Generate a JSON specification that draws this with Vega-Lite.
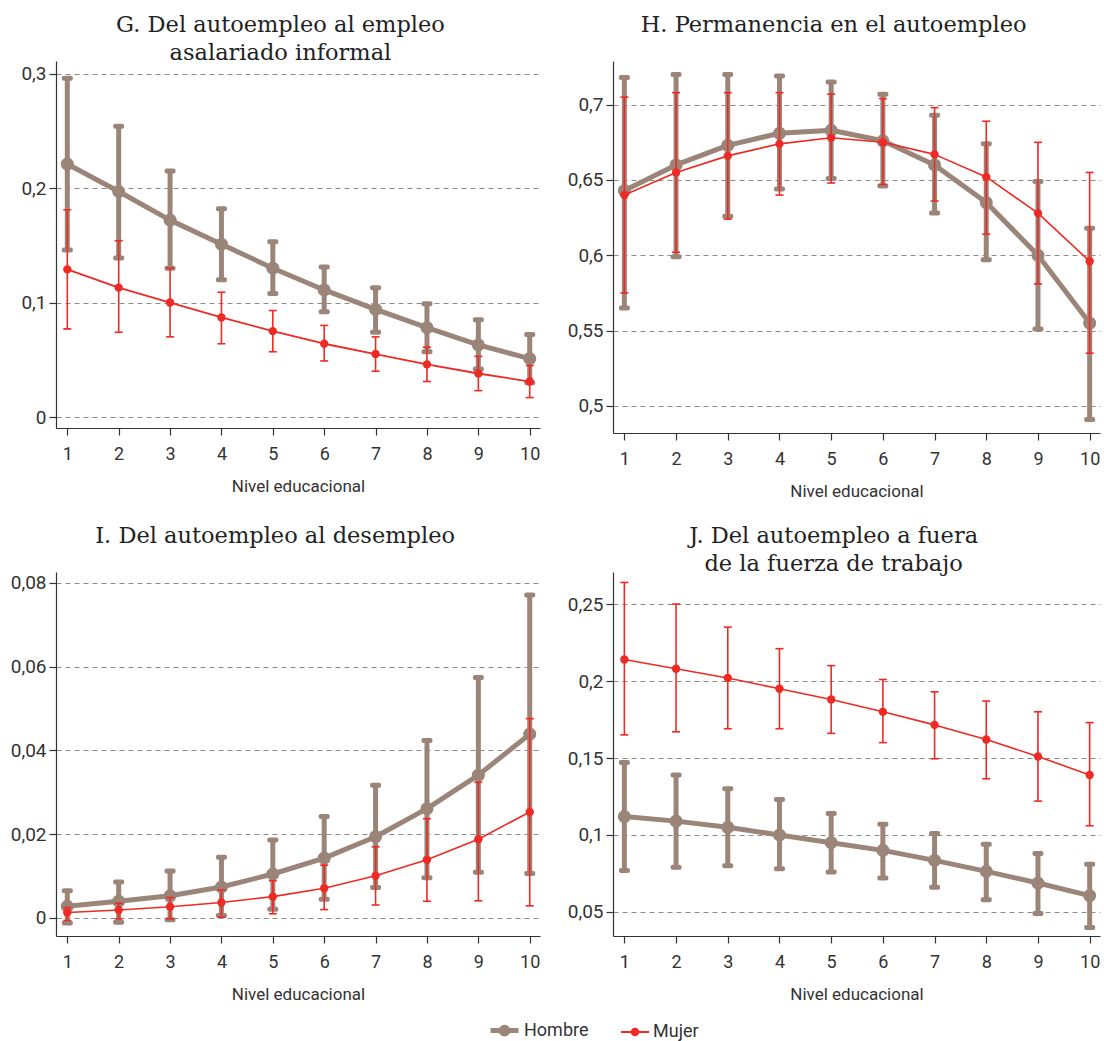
{
  "$schema": "https://vega.github.io/schema/vega-lite/v6.json",
  "padding": {"left": 10, "top": 13, "right": 2, "bottom": 0},
  "background": "white",
  "datasets": {
    "d": [
      {"panel":"G","nivel":1,"sexo":"Hombre","v":0.221,"lo":0.146,"hi":0.296},
      {"panel":"G","nivel":2,"sexo":"Hombre","v":0.197,"lo":0.139,"hi":0.254},
      {"panel":"G","nivel":3,"sexo":"Hombre","v":0.172,"lo":0.130,"hi":0.215},
      {"panel":"G","nivel":4,"sexo":"Hombre","v":0.151,"lo":0.120,"hi":0.182},
      {"panel":"G","nivel":5,"sexo":"Hombre","v":0.130,"lo":0.108,"hi":0.153},
      {"panel":"G","nivel":6,"sexo":"Hombre","v":0.111,"lo":0.092,"hi":0.131},
      {"panel":"G","nivel":7,"sexo":"Hombre","v":0.094,"lo":0.074,"hi":0.113},
      {"panel":"G","nivel":8,"sexo":"Hombre","v":0.078,"lo":0.057,"hi":0.099},
      {"panel":"G","nivel":9,"sexo":"Hombre","v":0.063,"lo":0.042,"hi":0.085},
      {"panel":"G","nivel":10,"sexo":"Hombre","v":0.051,"lo":0.030,"hi":0.072},
      {"panel":"G","nivel":1,"sexo":"Mujer","v":0.129,"lo":0.077,"hi":0.181},
      {"panel":"G","nivel":2,"sexo":"Mujer","v":0.113,"lo":0.074,"hi":0.154},
      {"panel":"G","nivel":3,"sexo":"Mujer","v":0.100,"lo":0.070,"hi":0.130},
      {"panel":"G","nivel":4,"sexo":"Mujer","v":0.087,"lo":0.064,"hi":0.109},
      {"panel":"G","nivel":5,"sexo":"Mujer","v":0.075,"lo":0.057,"hi":0.093},
      {"panel":"G","nivel":6,"sexo":"Mujer","v":0.064,"lo":0.049,"hi":0.080},
      {"panel":"G","nivel":7,"sexo":"Mujer","v":0.055,"lo":0.040,"hi":0.070},
      {"panel":"G","nivel":8,"sexo":"Mujer","v":0.046,"lo":0.031,"hi":0.061},
      {"panel":"G","nivel":9,"sexo":"Mujer","v":0.038,"lo":0.023,"hi":0.053},
      {"panel":"G","nivel":10,"sexo":"Mujer","v":0.031,"lo":0.017,"hi":0.045},
      {"panel":"H","nivel":1,"sexo":"Hombre","v":0.643,"lo":0.565,"hi":0.718},
      {"panel":"H","nivel":2,"sexo":"Hombre","v":0.660,"lo":0.599,"hi":0.720},
      {"panel":"H","nivel":3,"sexo":"Hombre","v":0.673,"lo":0.626,"hi":0.720},
      {"panel":"H","nivel":4,"sexo":"Hombre","v":0.681,"lo":0.644,"hi":0.719},
      {"panel":"H","nivel":5,"sexo":"Hombre","v":0.683,"lo":0.651,"hi":0.715},
      {"panel":"H","nivel":6,"sexo":"Hombre","v":0.676,"lo":0.646,"hi":0.707},
      {"panel":"H","nivel":7,"sexo":"Hombre","v":0.660,"lo":0.628,"hi":0.693},
      {"panel":"H","nivel":8,"sexo":"Hombre","v":0.635,"lo":0.597,"hi":0.674},
      {"panel":"H","nivel":9,"sexo":"Hombre","v":0.600,"lo":0.551,"hi":0.649},
      {"panel":"H","nivel":10,"sexo":"Hombre","v":0.555,"lo":0.491,"hi":0.618},
      {"panel":"H","nivel":1,"sexo":"Mujer","v":0.640,"lo":0.575,"hi":0.705},
      {"panel":"H","nivel":2,"sexo":"Mujer","v":0.655,"lo":0.602,"hi":0.708},
      {"panel":"H","nivel":3,"sexo":"Mujer","v":0.666,"lo":0.624,"hi":0.708},
      {"panel":"H","nivel":4,"sexo":"Mujer","v":0.674,"lo":0.640,"hi":0.708},
      {"panel":"H","nivel":5,"sexo":"Mujer","v":0.678,"lo":0.648,"hi":0.707},
      {"panel":"H","nivel":6,"sexo":"Mujer","v":0.675,"lo":0.647,"hi":0.704},
      {"panel":"H","nivel":7,"sexo":"Mujer","v":0.667,"lo":0.636,"hi":0.698},
      {"panel":"H","nivel":8,"sexo":"Mujer","v":0.652,"lo":0.614,"hi":0.689},
      {"panel":"H","nivel":9,"sexo":"Mujer","v":0.628,"lo":0.581,"hi":0.675},
      {"panel":"H","nivel":10,"sexo":"Mujer","v":0.596,"lo":0.535,"hi":0.655},
      {"panel":"I","nivel":1,"sexo":"Hombre","v":0.0028,"lo":-0.0012,"hi":0.0065},
      {"panel":"I","nivel":2,"sexo":"Hombre","v":0.0040,"lo":-0.0010,"hi":0.0086},
      {"panel":"I","nivel":3,"sexo":"Hombre","v":0.0053,"lo":-0.0004,"hi":0.0112},
      {"panel":"I","nivel":4,"sexo":"Hombre","v":0.0074,"lo":0.0006,"hi":0.0145},
      {"panel":"I","nivel":5,"sexo":"Hombre","v":0.0105,"lo":0.0021,"hi":0.0186},
      {"panel":"I","nivel":6,"sexo":"Hombre","v":0.0143,"lo":0.0045,"hi":0.0242},
      {"panel":"I","nivel":7,"sexo":"Hombre","v":0.0194,"lo":0.0073,"hi":0.0317},
      {"panel":"I","nivel":8,"sexo":"Hombre","v":0.0261,"lo":0.0096,"hi":0.0424},
      {"panel":"I","nivel":9,"sexo":"Hombre","v":0.0341,"lo":0.0109,"hi":0.0574},
      {"panel":"I","nivel":10,"sexo":"Hombre","v":0.0439,"lo":0.0106,"hi":0.0771},
      {"panel":"I","nivel":1,"sexo":"Mujer","v":0.0013,"lo":-0.0006,"hi":0.0025},
      {"panel":"I","nivel":2,"sexo":"Mujer","v":0.0019,"lo":-0.0002,"hi":0.0035},
      {"panel":"I","nivel":3,"sexo":"Mujer","v":0.0027,"lo":-0.0002,"hi":0.0049},
      {"panel":"I","nivel":4,"sexo":"Mujer","v":0.0037,"lo":0.0002,"hi":0.0067},
      {"panel":"I","nivel":5,"sexo":"Mujer","v":0.0051,"lo":0.0010,"hi":0.0089},
      {"panel":"I","nivel":6,"sexo":"Mujer","v":0.0071,"lo":0.0020,"hi":0.0126},
      {"panel":"I","nivel":7,"sexo":"Mujer","v":0.0101,"lo":0.0031,"hi":0.0170},
      {"panel":"I","nivel":8,"sexo":"Mujer","v":0.0139,"lo":0.0040,"hi":0.0237},
      {"panel":"I","nivel":9,"sexo":"Mujer","v":0.0188,"lo":0.0041,"hi":0.0324},
      {"panel":"I","nivel":10,"sexo":"Mujer","v":0.0253,"lo":0.0029,"hi":0.0476},
      {"panel":"J","nivel":1,"sexo":"Hombre","v":0.112,"lo":0.077,"hi":0.147},
      {"panel":"J","nivel":2,"sexo":"Hombre","v":0.109,"lo":0.079,"hi":0.139},
      {"panel":"J","nivel":3,"sexo":"Hombre","v":0.105,"lo":0.080,"hi":0.130},
      {"panel":"J","nivel":4,"sexo":"Hombre","v":0.100,"lo":0.078,"hi":0.123},
      {"panel":"J","nivel":5,"sexo":"Hombre","v":0.095,"lo":0.076,"hi":0.114},
      {"panel":"J","nivel":6,"sexo":"Hombre","v":0.090,"lo":0.072,"hi":0.107},
      {"panel":"J","nivel":7,"sexo":"Hombre","v":0.0835,"lo":0.066,"hi":0.101},
      {"panel":"J","nivel":8,"sexo":"Hombre","v":0.0764,"lo":0.058,"hi":0.094},
      {"panel":"J","nivel":9,"sexo":"Hombre","v":0.0688,"lo":0.049,"hi":0.088},
      {"panel":"J","nivel":10,"sexo":"Hombre","v":0.0606,"lo":0.040,"hi":0.081},
      {"panel":"J","nivel":1,"sexo":"Mujer","v":0.214,"lo":0.165,"hi":0.264},
      {"panel":"J","nivel":2,"sexo":"Mujer","v":0.208,"lo":0.167,"hi":0.250},
      {"panel":"J","nivel":3,"sexo":"Mujer","v":0.202,"lo":0.169,"hi":0.235},
      {"panel":"J","nivel":4,"sexo":"Mujer","v":0.195,"lo":0.169,"hi":0.221},
      {"panel":"J","nivel":5,"sexo":"Mujer","v":0.188,"lo":0.166,"hi":0.210},
      {"panel":"J","nivel":6,"sexo":"Mujer","v":0.180,"lo":0.160,"hi":0.201},
      {"panel":"J","nivel":7,"sexo":"Mujer","v":0.1715,"lo":0.1495,"hi":0.193},
      {"panel":"J","nivel":8,"sexo":"Mujer","v":0.162,"lo":0.1365,"hi":0.187},
      {"panel":"J","nivel":9,"sexo":"Mujer","v":0.151,"lo":0.122,"hi":0.180},
      {"panel":"J","nivel":10,"sexo":"Mujer","v":0.139,"lo":0.106,"hi":0.173}
    ]
  },
  "data": {"name": "d"},
  "columns": 2,
  "spacing": {"row": 25, "column": 27},
  "concat": [
    {
      "title": {"text": ["G. Del autoempleo al empleo", "asalariado informal"]},
      "width": 484, "height": 367,
      "transform": [{"filter": "datum.panel === 'G'"}],
      "encoding": {
        "x": {"field": "nivel", "type": "quantitative", "scale": {"domain": [0.78, 10.2], "nice": false, "zero": false}, "axis": {"values": [1,2,3,4,5,6,7,8,9,10], "title": "Nivel educacional", "format": "d"}},
        "color": {"field": "sexo", "type": "nominal", "scale": {"domain": ["Hombre", "Mujer"], "range": ["#9b8579", "#ee2a24"]},
          "legend": {"orient": "none", "legendX": 432, "legendY": 953, "direction": "horizontal", "title": null, "symbolSize": 784, "columnPadding": 28, "labelOffset": 3, "padding": 0,
            "symbolType": "M-1,0H1M0.24,0A0.24,0.24 0 1,1 -0.24,0A0.24,0.24 0 1,1 0.24,0Z"}}
      },
      "layer": [
        {"transform": [{"filter": "datum.sexo === 'Hombre'"}], "mark": {"type": "errorbar", "thickness": 5, "size": 11, "ticks": {"opacity": 1, "cornerRadius": 2}, "rule": {"opacity": 1}},
         "encoding": {"y": {"field": "lo", "type": "quantitative", "scale": {"domain": [-0.0096, 0.311], "nice": false, "zero": false}, "axis": {"values": [0, 0.1, 0.2, 0.3], "title": null}}, "y2": {"field": "hi"}}},
        {"transform": [{"filter": "datum.sexo === 'Hombre'"}], "mark": {"type": "line", "point": {"filled": true, "size": 170, "opacity": 1}},
         "encoding": {"y": {"field": "v", "type": "quantitative", "scale": {"domain": [-0.0096, 0.311], "nice": false, "zero": false}, "axis": {"values": [0, 0.1, 0.2, 0.3], "title": null}},
           "strokeWidth": {"field": "sexo", "type": "nominal", "scale": {"type": "ordinal", "domain": ["Hombre", "Mujer"], "range": [5, 1.8]},
             "legend": {"orient": "none", "legendX": 432, "legendY": 953, "direction": "horizontal", "title": null, "symbolSize": 784, "columnPadding": 28, "labelOffset": 3, "padding": 0,
               "symbolType": "M-1,0H1M0.24,0A0.24,0.24 0 1,1 -0.24,0A0.24,0.24 0 1,1 0.24,0Z"}}}},
        {"transform": [{"filter": "datum.sexo === 'Mujer'"}], "mark": {"type": "errorbar", "thickness": 1.6, "size": 8, "ticks": {"opacity": 1}, "rule": {"opacity": 1}},
         "encoding": {"y": {"field": "lo", "type": "quantitative", "scale": {"domain": [-0.0096, 0.311], "nice": false, "zero": false}, "axis": {"values": [0, 0.1, 0.2, 0.3], "title": null}}, "y2": {"field": "hi"}}},
        {"transform": [{"filter": "datum.sexo === 'Mujer'"}], "mark": {"type": "line", "point": {"filled": true, "size": 70, "opacity": 1}},
         "encoding": {"y": {"field": "v", "type": "quantitative", "scale": {"domain": [-0.0096, 0.311], "nice": false, "zero": false}, "axis": {"values": [0, 0.1, 0.2, 0.3], "title": null}},
           "strokeWidth": {"field": "sexo", "type": "nominal", "scale": {"type": "ordinal", "domain": ["Hombre", "Mujer"], "range": [5, 1.8]},
             "legend": {"orient": "none", "legendX": 432, "legendY": 953, "direction": "horizontal", "title": null, "symbolSize": 784, "columnPadding": 28, "labelOffset": 3, "padding": 0,
               "symbolType": "M-1,0H1M0.24,0A0.24,0.24 0 1,1 -0.24,0A0.24,0.24 0 1,1 0.24,0Z"}}}}
      ]
    },
    {
      "title": {"text": ["H. Permanencia en el autoempleo", " "]},
      "width": 487, "height": 372,
      "transform": [{"filter": "datum.panel === 'H'"}],
      "encoding": {
        "x": {"field": "nivel", "type": "quantitative", "scale": {"domain": [0.78, 10.2], "nice": false, "zero": false}, "axis": {"values": [1,2,3,4,5,6,7,8,9,10], "title": "Nivel educacional", "format": "d"}},
        "color": {"field": "sexo", "type": "nominal", "scale": {"domain": ["Hombre", "Mujer"], "range": ["#9b8579", "#ee2a24"]}, "legend": null}
      },
      "layer": [
        {"transform": [{"filter": "datum.sexo === 'Hombre'"}], "mark": {"type": "errorbar", "thickness": 5, "size": 11, "ticks": {"opacity": 1, "cornerRadius": 2}, "rule": {"opacity": 1}},
         "encoding": {"y": {"field": "lo", "type": "quantitative", "scale": {"domain": [0.482, 0.729], "nice": false, "zero": false}, "axis": {"values": [0.5, 0.55, 0.6, 0.65, 0.7], "title": null}}, "y2": {"field": "hi"}}},
        {"transform": [{"filter": "datum.sexo === 'Hombre'"}], "mark": {"type": "line", "strokeWidth": 5, "point": {"filled": true, "size": 170, "opacity": 1}},
         "encoding": {"y": {"field": "v", "type": "quantitative", "scale": {"domain": [0.482, 0.729], "nice": false, "zero": false}, "axis": {"values": [0.5, 0.55, 0.6, 0.65, 0.7], "title": null}}}},
        {"transform": [{"filter": "datum.sexo === 'Mujer'"}], "mark": {"type": "errorbar", "thickness": 1.6, "size": 8, "ticks": {"opacity": 1}, "rule": {"opacity": 1}},
         "encoding": {"y": {"field": "lo", "type": "quantitative", "scale": {"domain": [0.482, 0.729], "nice": false, "zero": false}, "axis": {"values": [0.5, 0.55, 0.6, 0.65, 0.7], "title": null}}, "y2": {"field": "hi"}}},
        {"transform": [{"filter": "datum.sexo === 'Mujer'"}], "mark": {"type": "line", "strokeWidth": 1.6, "point": {"filled": true, "size": 70, "opacity": 1}},
         "encoding": {"y": {"field": "v", "type": "quantitative", "scale": {"domain": [0.482, 0.729], "nice": false, "zero": false}, "axis": {"values": [0.5, 0.55, 0.6, 0.65, 0.7], "title": null}}}}
      ]
    },
    {
      "title": {"text": ["I. Del autoempleo al desempleo", " "]},
      "width": 484, "height": 364,
      "transform": [{"filter": "datum.panel === 'I'"}],
      "encoding": {
        "x": {"field": "nivel", "type": "quantitative", "scale": {"domain": [0.78, 10.2], "nice": false, "zero": false}, "axis": {"values": [1,2,3,4,5,6,7,8,9,10], "title": "Nivel educacional", "format": "d"}},
        "color": {"field": "sexo", "type": "nominal", "scale": {"domain": ["Hombre", "Mujer"], "range": ["#9b8579", "#ee2a24"]}, "legend": null}
      },
      "layer": [
        {"transform": [{"filter": "datum.sexo === 'Hombre'"}], "mark": {"type": "errorbar", "thickness": 5, "size": 11, "ticks": {"opacity": 1, "cornerRadius": 2}, "rule": {"opacity": 1}},
         "encoding": {"y": {"field": "lo", "type": "quantitative", "scale": {"domain": [-0.0043, 0.0826], "nice": false, "zero": false}, "axis": {"values": [0, 0.02, 0.04, 0.06, 0.08], "title": null}}, "y2": {"field": "hi"}}},
        {"transform": [{"filter": "datum.sexo === 'Hombre'"}], "mark": {"type": "line", "strokeWidth": 5, "point": {"filled": true, "size": 170, "opacity": 1}},
         "encoding": {"y": {"field": "v", "type": "quantitative", "scale": {"domain": [-0.0043, 0.0826], "nice": false, "zero": false}, "axis": {"values": [0, 0.02, 0.04, 0.06, 0.08], "title": null}}}},
        {"transform": [{"filter": "datum.sexo === 'Mujer'"}], "mark": {"type": "errorbar", "thickness": 1.6, "size": 8, "ticks": {"opacity": 1}, "rule": {"opacity": 1}},
         "encoding": {"y": {"field": "lo", "type": "quantitative", "scale": {"domain": [-0.0043, 0.0826], "nice": false, "zero": false}, "axis": {"values": [0, 0.02, 0.04, 0.06, 0.08], "title": null}}, "y2": {"field": "hi"}}},
        {"transform": [{"filter": "datum.sexo === 'Mujer'"}], "mark": {"type": "line", "strokeWidth": 1.6, "point": {"filled": true, "size": 70, "opacity": 1}},
         "encoding": {"y": {"field": "v", "type": "quantitative", "scale": {"domain": [-0.0043, 0.0826], "nice": false, "zero": false}, "axis": {"values": [0, 0.02, 0.04, 0.06, 0.08], "title": null}}}}
      ]
    },
    {
      "title": {"text": ["J. Del autoempleo a fuera", "de la fuerza de trabajo"]},
      "width": 487, "height": 364,
      "transform": [{"filter": "datum.panel === 'J'"}],
      "encoding": {
        "x": {"field": "nivel", "type": "quantitative", "scale": {"domain": [0.78, 10.2], "nice": false, "zero": false}, "axis": {"values": [1,2,3,4,5,6,7,8,9,10], "title": "Nivel educacional", "format": "d"}},
        "color": {"field": "sexo", "type": "nominal", "scale": {"domain": ["Hombre", "Mujer"], "range": ["#9b8579", "#ee2a24"]}, "legend": null}
      },
      "layer": [
        {"transform": [{"filter": "datum.sexo === 'Hombre'"}], "mark": {"type": "errorbar", "thickness": 5, "size": 11, "ticks": {"opacity": 1, "cornerRadius": 2}, "rule": {"opacity": 1}},
         "encoding": {"y": {"field": "lo", "type": "quantitative", "scale": {"domain": [0.0344, 0.2708], "nice": false, "zero": false}, "axis": {"values": [0.05, 0.1, 0.15, 0.2, 0.25], "title": null}}, "y2": {"field": "hi"}}},
        {"transform": [{"filter": "datum.sexo === 'Hombre'"}], "mark": {"type": "line", "strokeWidth": 5, "point": {"filled": true, "size": 170, "opacity": 1}},
         "encoding": {"y": {"field": "v", "type": "quantitative", "scale": {"domain": [0.0344, 0.2708], "nice": false, "zero": false}, "axis": {"values": [0.05, 0.1, 0.15, 0.2, 0.25], "title": null}}}},
        {"transform": [{"filter": "datum.sexo === 'Mujer'"}], "mark": {"type": "errorbar", "thickness": 1.6, "size": 8, "ticks": {"opacity": 1}, "rule": {"opacity": 1}},
         "encoding": {"y": {"field": "lo", "type": "quantitative", "scale": {"domain": [0.0344, 0.2708], "nice": false, "zero": false}, "axis": {"values": [0.05, 0.1, 0.15, 0.2, 0.25], "title": null}}, "y2": {"field": "hi"}}},
        {"transform": [{"filter": "datum.sexo === 'Mujer'"}], "mark": {"type": "line", "strokeWidth": 1.6, "point": {"filled": true, "size": 70, "opacity": 1}},
         "encoding": {"y": {"field": "v", "type": "quantitative", "scale": {"domain": [0.0344, 0.2708], "nice": false, "zero": false}, "axis": {"values": [0.05, 0.1, 0.15, 0.2, 0.25], "title": null}}}}
      ]
    }
  ],
  "config": {
    "view": {"stroke": null},
    "font": "Roboto",
    "title": {"font": "DejaVu Serif", "fontSize": 22.5, "fontWeight": "normal", "color": "#222", "anchor": "middle", "frame": "bounds", "lineHeight": 28, "offset": -3},
    "axis": {"labelFont": "Roboto", "titleFont": "Roboto", "labelColor": "#333", "titleColor": "#333", "domainColor": "#333", "tickColor": "#333", "domainWidth": 1.2, "tickWidth": 1.2},
    "axisY": {"grid": true, "gridDash": [5, 4], "gridColor": "#8c8c8c", "gridWidth": 1, "labelFontSize": 19, "tickSize": 7, "labelPadding": 3, "labelExpr": "replace(format(datum.value, '.2~f'), '.', ',')"},
    "axisX": {"grid": false, "labelFontSize": 18, "tickSize": 7, "labelPadding": 10, "titleFontSize": 17, "titleFontWeight": "normal", "titlePadding": 15, "labelFlush": false},
    "legend": {"labelFont": "Roboto", "labelFontSize": 18, "labelColor": "#333"},
    "line": {"strokeJoin": "round", "strokeCap": "round"}
  }
}
